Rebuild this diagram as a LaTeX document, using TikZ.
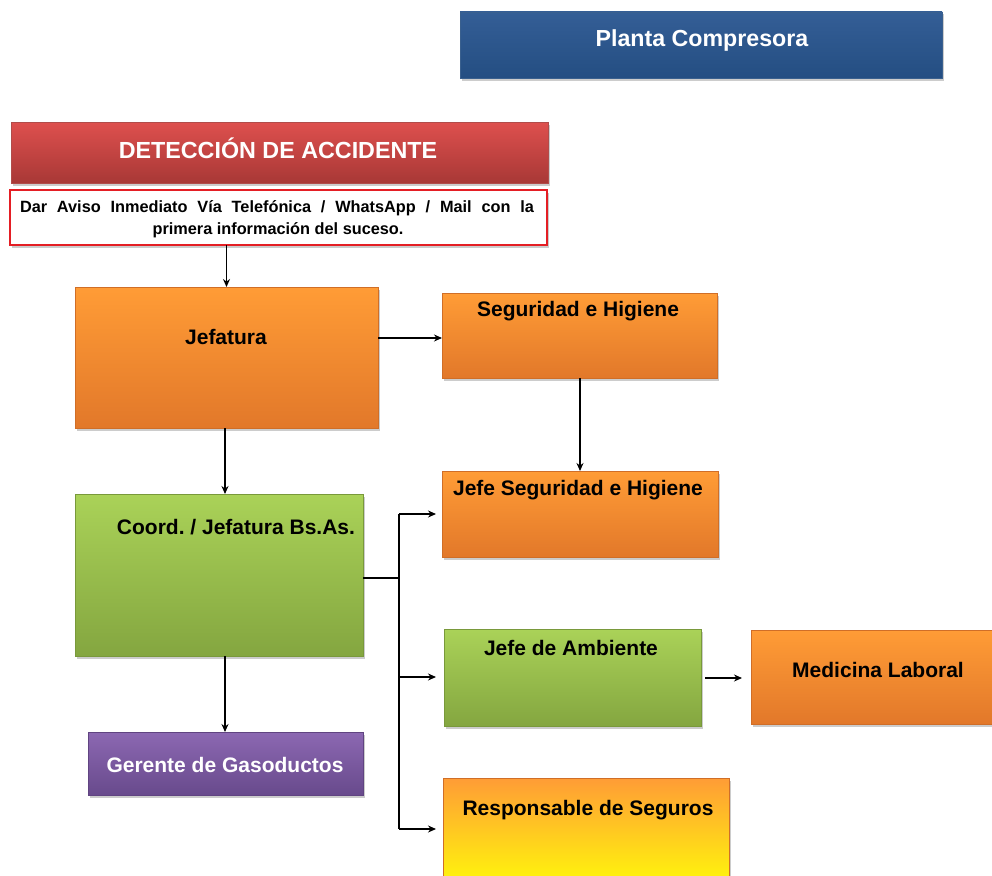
\documentclass[tikz,border=0pt]{standalone}
\usepackage{fontspec}
\setmainfont{Liberation Sans}
\frenchspacing
\usetikzlibrary{shadows,arrows.meta,calc}
\definecolor{blueTop}{RGB}{52,94,150}
\definecolor{blueBot}{RGB}{36,78,130}
\definecolor{redTop}{RGB}{222,80,78}
\definecolor{redBot}{RGB}{168,56,54}
\definecolor{orTop}{RGB}{255,156,54}
\definecolor{orBot}{RGB}{226,120,42}
\definecolor{grTop}{RGB}{170,210,88}
\definecolor{grBot}{RGB}{132,166,64}
\definecolor{puTop}{RGB}{140,104,178}
\definecolor{puBot}{RGB}{104,74,140}
\definecolor{yeBot}{RGB}{255,250,10}
\definecolor{frameRed}{RGB}{228,30,36}
\begin{document}
\begin{tikzpicture}[x=1pt,y=-1pt,
  bx/.style={rectangle, inner sep=0pt, outer sep=0pt, anchor=north west,
    drop shadow={opacity=0.4, shadow xshift=2pt, shadow yshift=-2.5pt}},
  bluebox/.style={bx, top color=blueTop, bottom color=blueBot, draw=blueBot!90!white, line width=0.5pt},
  redbox/.style={bx, top color=redTop, bottom color=redBot, draw=redBot!90!white, line width=0.5pt},
  orbox/.style={bx, top color=orTop, bottom color=orBot, draw=orBot!92!black, line width=0.5pt},
  grbox/.style={bx, top color=grTop, bottom color=grBot, draw=grBot!92!black, line width=0.5pt},
  pubox/.style={bx, top color=puTop, bottom color=puBot, draw=puBot!92!black, line width=0.5pt},
  yebox/.style={bx, top color=orTop, bottom color=yeBot, draw=orBot!92!black, line width=0.5pt},
  lbl/.style={inner sep=0pt, font=\fontsize{21}{25}\selectfont\bfseries, text=black},
  wlbl/.style={lbl, text=white},
  arr/.style={line width=1.2pt, -{Stealth[length=8pt,width=7pt]}},
  ln/.style={line width=1.5pt}
]
\useasboundingbox (0,0) rectangle (992,875);

% boxes
\node[bluebox, minimum width=482pt, minimum height=66pt] (pla) at (460,12) {};
\node[redbox, minimum width=537pt, minimum height=61pt] (det) at (11,122) {};
\node[bx, fill=white, draw=frameRed, line width=1.5pt, drop shadow={opacity=0}, minimum width=537pt, minimum height=55pt] (dar) at (10,190) {};
\node[orbox, minimum width=303pt, minimum height=141pt] (jef) at (75,287) {};
\node[orbox, minimum width=275pt, minimum height=85pt] (seg) at (442,293) {};
\node[orbox, minimum width=276pt, minimum height=86pt] (jsh) at (442,471) {};
\node[grbox, minimum width=288pt, minimum height=162pt] (coo) at (75,494) {};
\node[grbox, minimum width=257pt, minimum height=97pt] (amb) at (444,629) {};
\node[orbox, minimum width=250pt, minimum height=94pt] (med) at (751,630) {};
\node[pubox, minimum width=275pt, minimum height=63pt] (ger) at (88,732) {};
\node[yebox, minimum width=286pt, minimum height=110pt] (res) at (443,778) {};

% labels
\node[wlbl, font=\fontsize{23.2}{27}\selectfont\bfseries] (plaT) at (702,41) {Planta Compresora};
\node[wlbl, font=\fontsize{23.3}{27}\selectfont\bfseries] (detT) at (278,148) {DETECCIÓN DE ACCIDENTE};
\node[lbl, font=\fontsize{16.3}{19}\selectfont\bfseries] (darT1) at (277,208) {\makebox[514pt][s]{Dar Aviso Inmediato Vía Telefónica / WhatsApp / Mail con la}};
\node[lbl, font=\fontsize{16.3}{19}\selectfont\bfseries] (darT2) at (278,230) {primera información del suceso.};
\node[lbl] (jefT) at (226,337) {Jefatura};
\node[lbl] (segT) at (578,311) {Seguridad e Higiene};
\node[lbl] (jshT) at (578,490) {Jefe Seguridad e Higiene};
\node[lbl] (cooT) at (236,527) {Coord. / Jefatura Bs.As.};
\node[lbl] (ambT) at (571,648) {Jefe de Ambiente};
\node[lbl] (medT) at (878,670) {Medicina Laboral};
\node[wlbl] (gerT) at (225,765) {Gerente de Gasoductos};
\node[lbl] (resT) at (588,810) {Responsable de Seguros};

% connectors
\draw[arr] (dar.south -| jef.north) -- (jef.north);
\draw[arr] (jef.east |- 0,338) -- (seg.west |- 0,338);
\draw[arr] (seg.south -| 580,0) -- (jsh.north -| 580,0);
\draw[arr] (jef.south -| 225,0) -- (coo.north -| 225,0);
\draw[arr] (coo.south -| 225,0) -- (ger.north -| 225,0);
\coordinate (br) at (399,578);
\coordinate (brT) at (399,514);
\coordinate (brB) at (399,829);
\draw[ln] (coo.east |- br) -- (br);
\draw[line width=1.3pt] (brT) -- (brB);
\draw[arr, line width=1.5pt] (brT) -- ([xshift=-6pt]jsh.west |- brT);
\draw[arr, line width=1.5pt] (br |- 0,677) -- ([xshift=-8pt]amb.west |- 0,677);
\draw[arr, line width=1.5pt] (brB) -- ([xshift=-7pt]res.west |- brB);
\draw[arr, line width=1.5pt] ([xshift=4pt]amb.east |- 0,678) -- ([xshift=-9pt]med.west |- 0,678);
\end{tikzpicture}
\end{document}
